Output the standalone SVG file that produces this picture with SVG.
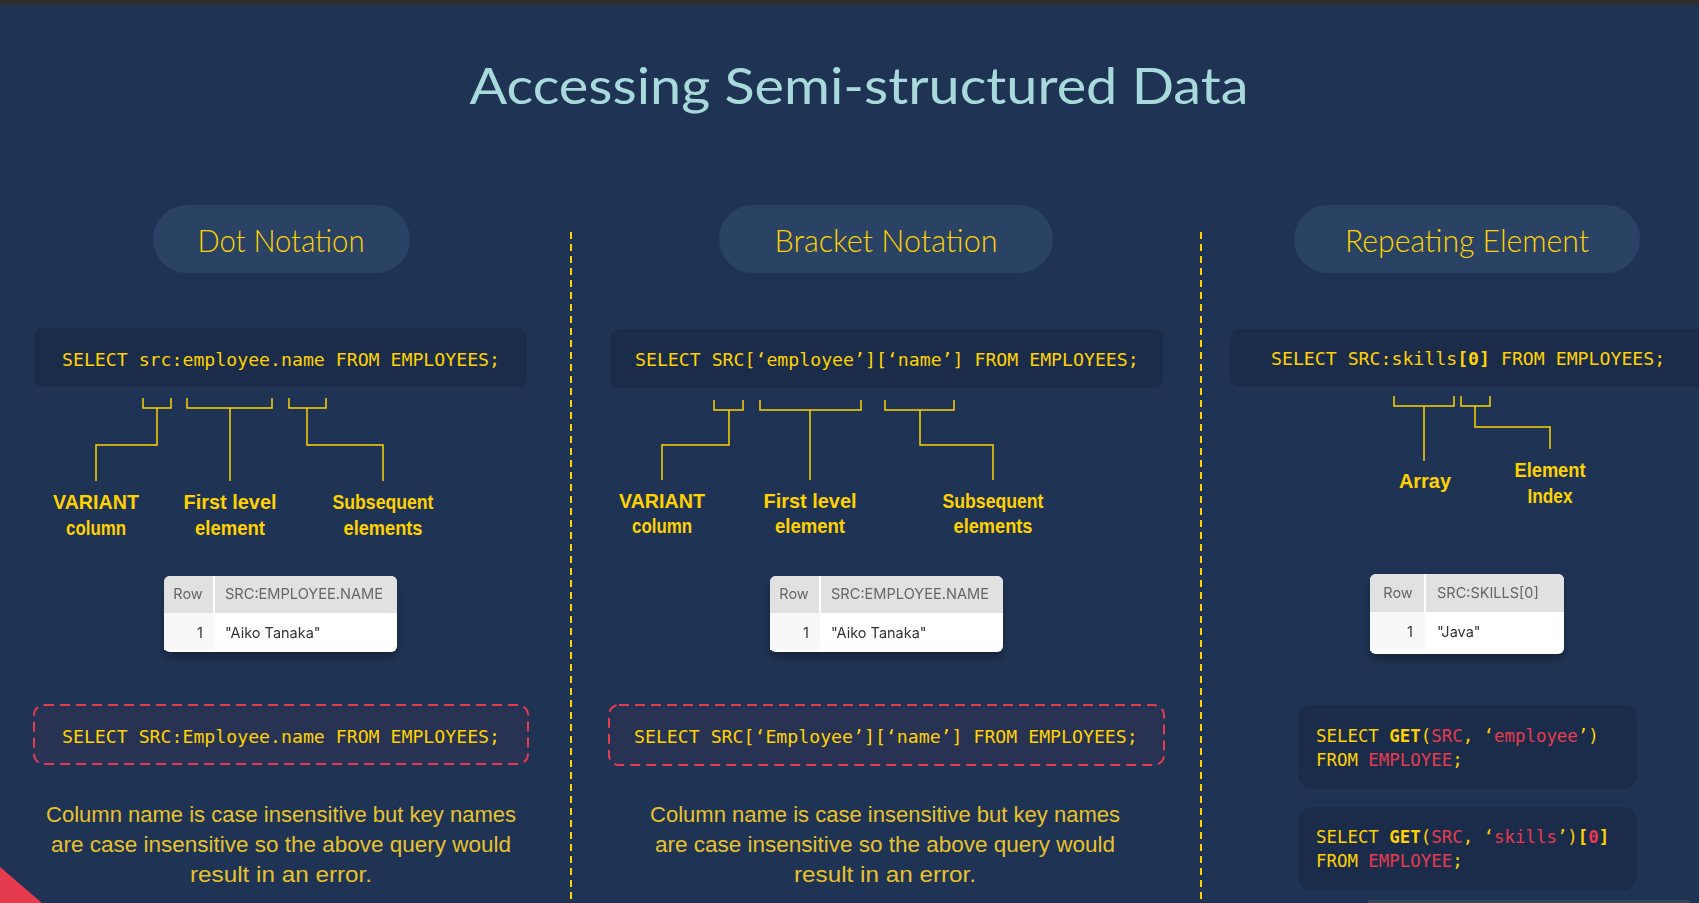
<svg xmlns="http://www.w3.org/2000/svg" width="1699" height="903" viewBox="0 0 1699 903">
<style>
.bg{fill:#1f3455}
.pill{fill:#2a4364}
.pilltxt{font-family:Lato,"Open Sans",sans-serif;font-weight:300;font-size:31px;fill:#ffd200;text-anchor:middle}
.code{fill:#1b2c4b}
.mono{font-family:"DejaVu Sans Mono","Liberation Mono",monospace;font-size:18.2px;fill:#ffd200;white-space:pre}
.mono2{font-family:"DejaVu Sans Mono","Liberation Mono",monospace;font-size:17.4px;fill:#ffd200;white-space:pre}
.red{fill:#e63b4f}
.b{font-weight:bold}
.err{fill:#283252;stroke:#e63b4f;stroke-width:2;stroke-dasharray:10 6}
.lbl{font-family:"Liberation Sans",Arial,sans-serif;font-size:21px;font-weight:bold;fill:#ffd200;text-anchor:middle}
.cap{font-family:"Liberation Sans",Arial,sans-serif;font-size:22px;fill:#e8c22b;text-anchor:middle}
.conn{fill:none;stroke:#ffd200;stroke-width:1.5}
.div{stroke:#ffd200;stroke-width:2;stroke-dasharray:7 5}
.th{font-family:Inter,"Liberation Sans",sans-serif;font-size:14.5px;fill:#666}
.td{font-family:Inter,"Liberation Sans",sans-serif;font-size:14.5px;fill:#333}
</style>
<defs>
<filter id="sh" x="-20%" y="-20%" width="140%" height="160%">
<feDropShadow dx="0" dy="6" stdDeviation="5" flood-color="#000" flood-opacity="0.3"/>
</filter>
</defs>
<rect class="bg" x="0" y="0" width="1699" height="903"/>
<rect x="0" y="0" width="1699" height="5" fill="#2d2d2d"/>
<text id="title" x="859" y="104" font-family="Lato,'Open Sans',sans-serif" font-size="50" fill="#a8dadc" text-anchor="middle" textLength="779" lengthAdjust="spacingAndGlyphs">Accessing Semi-structured Data</text>

<g id="dividers">
<line class="div" x1="571" y1="232" x2="571" y2="903"/>
<line class="div" x1="1201" y1="232" x2="1201" y2="903"/>
</g>

<!-- Section 1 -->
<g id="pill-dot">
<rect class="pill" x="153" y="205" width="257" height="68" rx="34"/>
<text class="pilltxt" x="281" y="252" textLength="167" lengthAdjust="spacingAndGlyphs">Dot Notation</text>
</g>
<g id="code-dot">
<rect class="code" x="34" y="328" width="493" height="59" rx="9"/>
<text class="mono" x="62" y="366">SELECT src:employee.name FROM EMPLOYEES;</text>
</g>
<g id="lbl-variant1"><text class="lbl" x="96" y="509" textLength="86" lengthAdjust="spacingAndGlyphs">VARIANT</text><text class="lbl" x="96" y="535" textLength="60" lengthAdjust="spacingAndGlyphs">column</text></g>
<g id="lbl-first1"><text class="lbl" x="230" y="509" textLength="93" lengthAdjust="spacingAndGlyphs">First level</text><text class="lbl" x="230" y="535" textLength="70" lengthAdjust="spacingAndGlyphs">element</text></g>
<g id="lbl-subseq1"><text class="lbl" x="383" y="509" textLength="101" lengthAdjust="spacingAndGlyphs">Subsequent</text><text class="lbl" x="383" y="535" textLength="79" lengthAdjust="spacingAndGlyphs">elements</text></g>
<g id="table-dot" filter="url(#sh)">
<rect x="164" y="576" width="233" height="76" rx="6" fill="#ffffff"/>
<path d="M164,613 V582 A6,6 0 0 1 170,576 H391 A6,6 0 0 1 397,582 V613 Z" fill="#e1e1e1"/>
<rect x="164" y="613" width="50" height="37" fill="#f8f8f8"/>
<line x1="214" y1="576" x2="214" y2="613" stroke="#ffffff" stroke-width="2"/>
<text class="th" x="188" y="599" text-anchor="middle">Row</text>
<text class="th" x="225" y="599" textLength="158" lengthAdjust="spacingAndGlyphs">SRC:EMPLOYEE.NAME</text>
<text class="td" x="203" y="638" text-anchor="end">1</text>
<text class="td" x="225" y="638">"Aiko Tanaka"</text>
</g>
<g id="err-dot">
<rect class="err" x="34" y="705" width="494" height="59" rx="10"/>
<text class="mono" x="62" y="743">SELECT SRC:Employee.name FROM EMPLOYEES;</text>
</g>
<g id="caption-dot">
<text class="cap" x="281" y="822" textLength="470" lengthAdjust="spacingAndGlyphs">Column name is case insensitive but key names</text>
<text class="cap" x="281" y="852" textLength="460" lengthAdjust="spacingAndGlyphs">are case insensitive so the above query would</text>
<text class="cap" x="281" y="882" textLength="182" lengthAdjust="spacingAndGlyphs">result in an error.</text>
</g>

<!-- Section 2 -->
<g id="pill-bracket">
<rect class="pill" x="719" y="205" width="334" height="68" rx="34"/>
<text class="pilltxt" x="886" y="252" textLength="223" lengthAdjust="spacingAndGlyphs">Bracket Notation</text>
</g>
<g id="code-bracket">
<rect class="code" x="610" y="329" width="553" height="59" rx="9"/>
<text class="mono" x="635" y="366">SELECT SRC[‘employee’][‘name’] FROM EMPLOYEES;</text>
</g>
<g id="lbl-variant2"><text class="lbl" x="662" y="508" textLength="86" lengthAdjust="spacingAndGlyphs">VARIANT</text><text class="lbl" x="662" y="533" textLength="60" lengthAdjust="spacingAndGlyphs">column</text></g>
<g id="lbl-first2"><text class="lbl" x="810" y="508" textLength="93" lengthAdjust="spacingAndGlyphs">First level</text><text class="lbl" x="810" y="533" textLength="70" lengthAdjust="spacingAndGlyphs">element</text></g>
<g id="lbl-subseq2"><text class="lbl" x="993" y="508" textLength="101" lengthAdjust="spacingAndGlyphs">Subsequent</text><text class="lbl" x="993" y="533" textLength="79" lengthAdjust="spacingAndGlyphs">elements</text></g>
<g id="table-bracket" filter="url(#sh)">
<rect x="770" y="576" width="233" height="76" rx="6" fill="#ffffff"/>
<path d="M770,613 V582 A6,6 0 0 1 776,576 H997 A6,6 0 0 1 1003,582 V613 Z" fill="#e1e1e1"/>
<rect x="770" y="613" width="50" height="37" fill="#f8f8f8"/>
<line x1="820" y1="576" x2="820" y2="613" stroke="#ffffff" stroke-width="2"/>
<text class="th" x="794" y="599" text-anchor="middle">Row</text>
<text class="th" x="831" y="599" textLength="158" lengthAdjust="spacingAndGlyphs">SRC:EMPLOYEE.NAME</text>
<text class="td" x="809" y="638" text-anchor="end">1</text>
<text class="td" x="831" y="638">"Aiko Tanaka"</text>
</g>
<g id="err-bracket">
<rect class="err" x="609" y="705" width="555" height="60" rx="10"/>
<text class="mono" x="634" y="743">SELECT SRC[‘Employee’][‘name’] FROM EMPLOYEES;</text>
</g>
<g id="caption-bracket">
<text class="cap" x="885" y="822" textLength="470" lengthAdjust="spacingAndGlyphs">Column name is case insensitive but key names</text>
<text class="cap" x="885" y="852" textLength="460" lengthAdjust="spacingAndGlyphs">are case insensitive so the above query would</text>
<text class="cap" x="885" y="882" textLength="182" lengthAdjust="spacingAndGlyphs">result in an error.</text>
</g>

<!-- Section 3 -->
<g id="pill-repeat">
<rect class="pill" x="1294" y="205" width="346" height="68" rx="34"/>
<text class="pilltxt" x="1467" y="252" textLength="244" lengthAdjust="spacingAndGlyphs">Repeating Element</text>
</g>
<g id="code-repeat">
<rect class="code" x="1230" y="329" width="500" height="58" rx="9"/>
<text class="mono" x="1271" y="365">SELECT SRC:skills<tspan class="b">[0]</tspan> FROM EMPLOYEES;</text>
</g>
<g id="lbl-array"><text class="lbl" x="1425" y="488" textLength="52" lengthAdjust="spacingAndGlyphs">Array</text></g>
<g id="lbl-index"><text class="lbl" x="1550" y="477" textLength="71" lengthAdjust="spacingAndGlyphs">Element</text><text class="lbl" x="1550" y="503" textLength="45" lengthAdjust="spacingAndGlyphs">Index</text></g>
<g id="table-repeat" filter="url(#sh)">
<rect x="1370" y="574" width="194" height="80" rx="6" fill="#ffffff"/>
<path d="M1370,612 V580 A6,6 0 0 1 1376,574 H1558 A6,6 0 0 1 1564,580 V612 Z" fill="#e1e1e1"/>
<rect x="1370" y="612" width="55" height="39" fill="#f8f8f8"/>
<line x1="1425" y1="574" x2="1425" y2="612" stroke="#ffffff" stroke-width="2"/>
<text class="th" x="1398" y="598" text-anchor="middle">Row</text>
<text class="th" x="1437" y="598">SRC:SKILLS[0]</text>
<text class="td" x="1413" y="637" text-anchor="end">1</text>
<text class="td" x="1437" y="637">"Java"</text>
</g>
<g id="code-get1">
<rect class="code" x="1298" y="705" width="339" height="84" rx="14"/>
<text class="mono2" x="1316" y="742">SELECT <tspan class="b">GET</tspan>(<tspan class="red">SRC</tspan>, ‘<tspan class="red">employee</tspan>’)</text>
<text class="mono2" x="1316" y="766">FROM <tspan class="red">EMPLOYEE</tspan>;</text>
</g>
<g id="code-get2">
<rect class="code" x="1298" y="807" width="339" height="83" rx="14"/>
<text class="mono2" x="1316" y="843">SELECT <tspan class="b">GET</tspan>(<tspan class="red">SRC</tspan>, ‘<tspan class="red">skills</tspan>’)<tspan class="b">[<tspan class="red">0</tspan>]</tspan></text>
<text class="mono2" x="1316" y="867">FROM <tspan class="red">EMPLOYEE</tspan>;</text>
</g>

<g id="connectors">
<path class="conn" d="M143,398 V408 H171 V398 M157,408 V445 H96 V481"/>
<path class="conn" d="M187,398 V408 H272 V398 M230,408 V481"/>
<path class="conn" d="M289,398 V408 H326 V398 M307,408 V445 H383 V481"/>
<path class="conn" d="M714,400 V410 H743 V400 M729,410 V445 H662 V480"/>
<path class="conn" d="M760,400 V410 H861 V400 M810,410 V480"/>
<path class="conn" d="M885,400 V410 H954 V400 M920,410 V445 H993 V480"/>
<path class="conn" d="M1394,396 V406 H1454 V396 M1424,406 V461"/>
<path class="conn" d="M1461,396 V406 H1490 V396 M1475,406 V427 H1550 V449"/>
</g>

<polygon id="corner" points="0,867 42,903 0,903" fill="#e63b4f"/>
<rect id="bottom-bar" x="1368" y="900" width="321" height="3" fill="#3b4558"/>
</svg>
